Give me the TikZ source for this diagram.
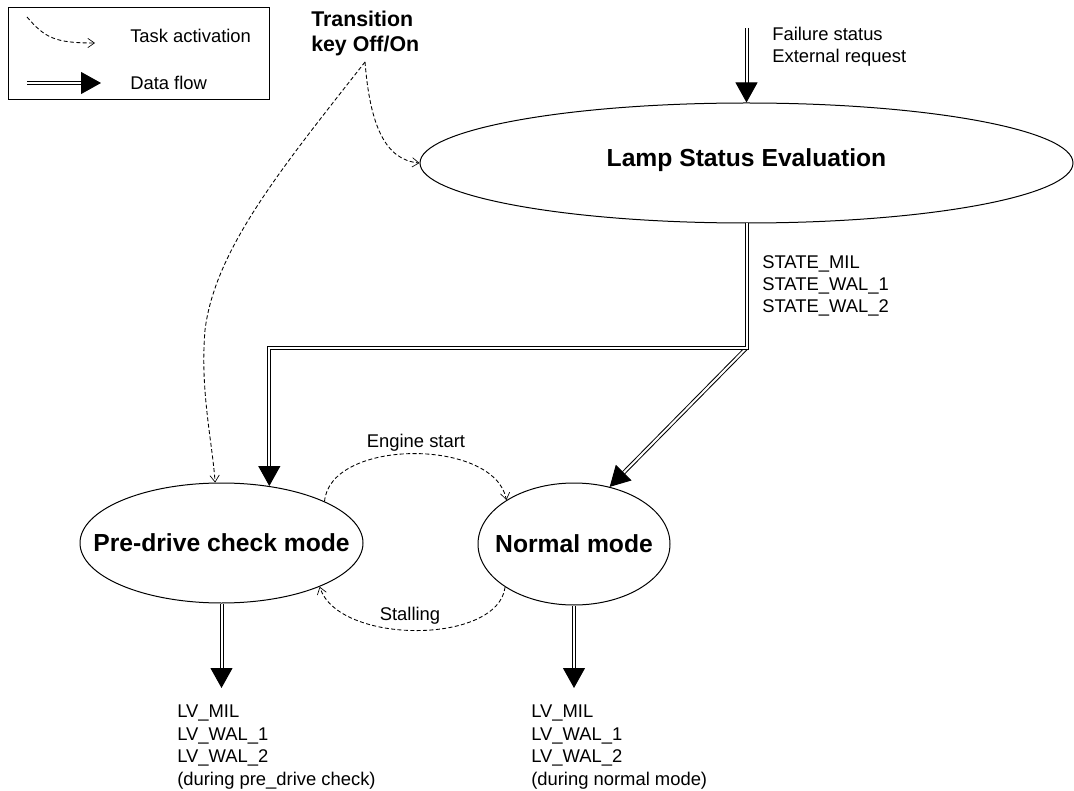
\documentclass[tikz,border=0pt]{standalone}
\usepackage{fontspec}
\setmainfont{Liberation Sans}
\usetikzlibrary{shapes.geometric,arrows.meta}
\begin{document}
\begin{tikzpicture}[x=0.75pt,y=-0.75pt,
  state/.style={draw=black, line width=0.75pt, ellipse, inner sep=0pt},
  flow/.style={draw=black, line width=0.75pt, double=white, double distance=1.5pt,
    -{Triangle[width=16.5pt,length=15pt]}},
  task/.style={draw=black, line width=0.65pt, dash pattern=on 3pt off 1.8pt,
    -{Straight Barb[length=5pt,width=7pt,line width=0.5pt]}},
  txt/.style={font=\fontsize{13.8}{16.8}\selectfont, inner sep=0pt, align=left, anchor=base west},
  big/.style={font=\bfseries\fontsize{18.5}{22}\selectfont, inner sep=0pt},
]
\useasboundingbox[fill=white] (0,0) rectangle (1074,791);

% legend
\draw[line width=0.75pt] (8,8) rectangle (269,100);
\coordinate (la1) at (27,17);
\coordinate (la2) at (95,43);
\coordinate (lf1) at (27,83);
\coordinate (lf2) at (101,83);
\node[txt] (lt1) at (130,43) {Task activation};
\node[txt] (lt2) at (130,90) {Data flow};
\draw[task] (la1) .. controls (45,38) and (55,43) .. (la2);
\draw[flow] (lf1) -- (lf2);

% states
\node[state, minimum width=489.75pt, minimum height=90pt,
  label={[big, yshift=2pt]center:Lamp Status Evaluation}] (lamp) at (746.5,163) {};
\node[state, minimum width=212.25pt, minimum height=90pt,
  label={[big]center:Pre-drive check mode}] (pre) at (221.5,543) {};
\node[state, minimum width=144pt, minimum height=91.5pt,
  label={[big]center:Normal mode}] (normal) at (574,544) {};

% texts (multi-line blocks are placed by the baseline of their last line)
\node[font=\bfseries\fontsize{16}{18.75}\selectfont, inner sep=0pt, align=left, anchor=base west]
  (trans) at (311,52) {Transition\\key Off/On};
\node[txt] (inlab) at (772,63) {Failure status\\External request};
\node[txt] (statelab) at (762,313) {STATE\_MIL\\STATE\_WAL\_1\\STATE\_WAL\_2};
\node[txt] (prelab) at (177,785) {LV\_MIL\\LV\_WAL\_1\\LV\_WAL\_2\\(during pre\_drive check)};
\node[txt] (normlab) at (531,785) {LV\_MIL\\LV\_WAL\_1\\LV\_WAL\_2\\(during normal mode)};
\node[txt, anchor=base] (eng) at (416,447) {Engine start};
\node[txt, anchor=base] (stall) at (410,620) {Stalling};

% free ends
\coordinate (ts) at (365,62);
\coordinate (fin) at (746.5,28);
\coordinate (j) at (746.5,348);
\coordinate (pout) at (221.5,688);
\coordinate (nout) at (574,688);

% data flow
\draw[flow] (fin) -- (lamp.north);
\draw[flow] (j) -- (normal.58);
\draw[flow] (lamp.south) -- (j) -| (pre.50);
\draw[flow] (pre.south) -- (pout);
\draw[flow] (normal.south) -- (nout);

% task activation
\draw[task] (ts) .. controls (370,125) and (385,160) .. (lamp.west);
\draw[task] (ts) .. controls (280,170) and (215,250) .. (205,330)
  .. controls (200,390) and (212,440) .. (pre.96);
\draw[task] (pre.22) .. controls (330,438) and (495,438) .. (normal.147);
\draw[task] (normal.212) .. controls (498,645) and (338,645) .. (pre.336);
\end{tikzpicture}
\end{document}
